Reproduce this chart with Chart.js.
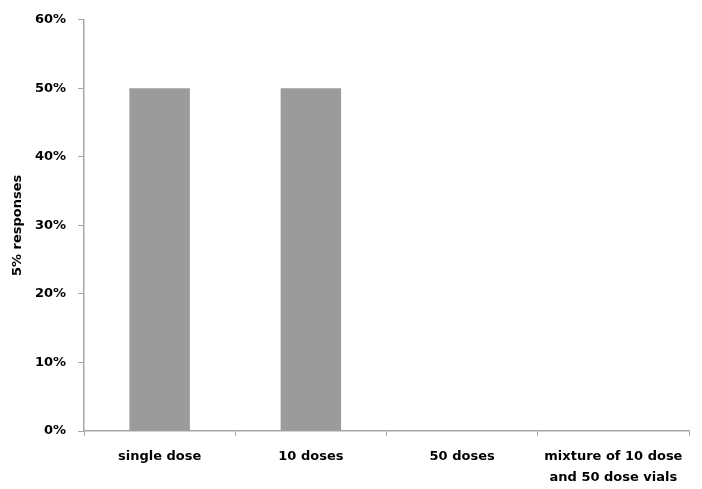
<!DOCTYPE html>
<html>
<head>
<meta charset="utf-8">
<script src="https://cdn.jsdelivr.net/npm/chart.js@4"></script>
<style>
  html, body { margin: 0; padding: 0; background: #fff; }
  #wrap { width: 702px; height: 489px; }
</style>
</head>
<body>
<div id="wrap"><canvas id="doseChart" width="702" height="489"></canvas></div>
<script>
// --------------------
// Chart data
// --------------------
const categories = ['single dose', '10 doses', '50 doses', ['mixture of 10 dose', 'and 50 dose vials']];
const responses = [50, 50, 0, 0];
const yTicks = [0, 10, 20, 30, 40, 50, 60];

const axisGray = '#a6a6a6';
const fontFamily = "'DejaVu Sans', 'Liberation Sans', Arial, sans-serif";
const labelFont = { family: fontFamily, size: 13, weight: 'bold', lineHeight: 1.6 };

// --------------------
// Render chart
// --------------------
const ctx = document.getElementById('doseChart').getContext('2d');
new Chart(ctx, {
    type: 'bar',
    data: {
        labels: categories,
        datasets: [{
            label: '5% responses',
            data: responses,
            backgroundColor: '#9b9b9b',
            borderWidth: 0,
            barPercentage: 0.4,
            categoryPercentage: 1.0
        }]
    },
    options: {
        responsive: false,
        animation: false,
        layout: { padding: { top: 16, right: 13, left: 0, bottom: 0 } },
        plugins: { legend: { display: false }, tooltip: { enabled: false } },
        scales: {
            x: {
                offset: true,
                grid: { offset: true, drawOnChartArea: false, drawTicks: true, tickLength: 5, color: axisGray },
                border: { color: axisGray, width: 1.5 },
                ticks: { color: '#000', font: labelFont, padding: 10, maxRotation: 0, autoSkip: false },
                afterFit: scale => { scale.height = 58; }
            },
            y: {
                min: 0,
                max: 60,
                afterBuildTicks: scale => { scale.ticks = yTicks.map(v => ({ value: v })); },
                grid: { drawOnChartArea: false, drawTicks: true, tickLength: 6, color: axisGray },
                border: { color: axisGray, width: 1.5 },
                ticks: { color: '#000', font: { family: fontFamily, size: 13, weight: 'bold' }, padding: 12, callback: v => v + '%' },
                title: {
                    display: true,
                    text: '5% responses',
                    color: '#000',
                    font: { family: fontFamily, size: 13, weight: 'bold' },
                    padding: { top: 10, bottom: 0 }
                },
                afterFit: scale => { scale.width = 84; }
            }
        }
    }
});
</script>
</body>
</html>
